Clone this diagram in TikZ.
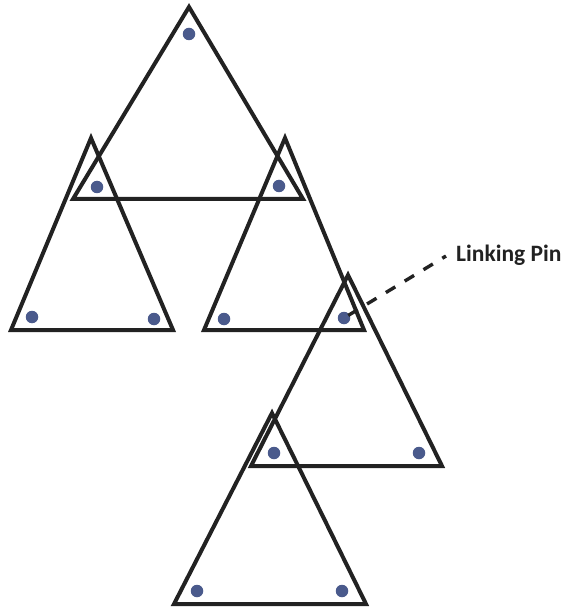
\documentclass[tikz,border=0pt]{standalone}
\usepackage{fontspec}
\setmainfont{Carlito}
\definecolor{pinblue}{HTML}{4A5A8C}
\definecolor{edgeblack}{HTML}{222222}
\begin{document}
\begin{tikzpicture}[x=1pt,y=-1pt,
  tri/.style={draw=edgeblack,line width=4pt,line join=miter},
  pin/.style={circle,fill=pinblue,inner sep=0pt,minimum size=12.5pt},
  leader/.style={draw=edgeblack,line width=3.4pt,dash pattern=on 11pt off 11pt,dash phase=17pt},
  lbl/.style={font=\bfseries\fontsize{23.5}{26}\selectfont,inner sep=0pt,anchor=west,text=edgeblack}]
\useasboundingbox (0,0) rectangle (566,609);
% triangles
\draw[tri] (189,7) -- (73,199) -- (303,199) -- cycle;
\draw[tri] (91,138) -- (11,330) -- (173,330) -- cycle;
\draw[tri] (285,138) -- (204,330) -- (364,330) -- cycle;
\draw[tri] (348,275) -- (251,466) -- (442,466) -- cycle;
\draw[tri] (272,413) -- (174,604) -- (366,604) -- cycle;
% pins
\node[pin] (p1) at (189,34) {};
\node[pin] (p2) at (97,187) {};
\node[pin] (p3) at (279,186) {};
\node[pin] (p4) at (32,317) {};
\node[pin] (p5) at (154,319) {};
\node[pin] (p6) at (224,319) {};
\node[pin] (p7) at (344,318) {};
\node[pin] (p8) at (274,453) {};
\node[pin] (p9) at (419,453) {};
\node[pin] (p10) at (197,591) {};
\node[pin] (p11) at (342,591) {};
% label
\node[lbl] (lp) at (456,255) {Linking Pin};
\coordinate (lpend) at (446,256);
\draw[leader] (p7.center) -- (lpend);
\end{tikzpicture}
\end{document}
